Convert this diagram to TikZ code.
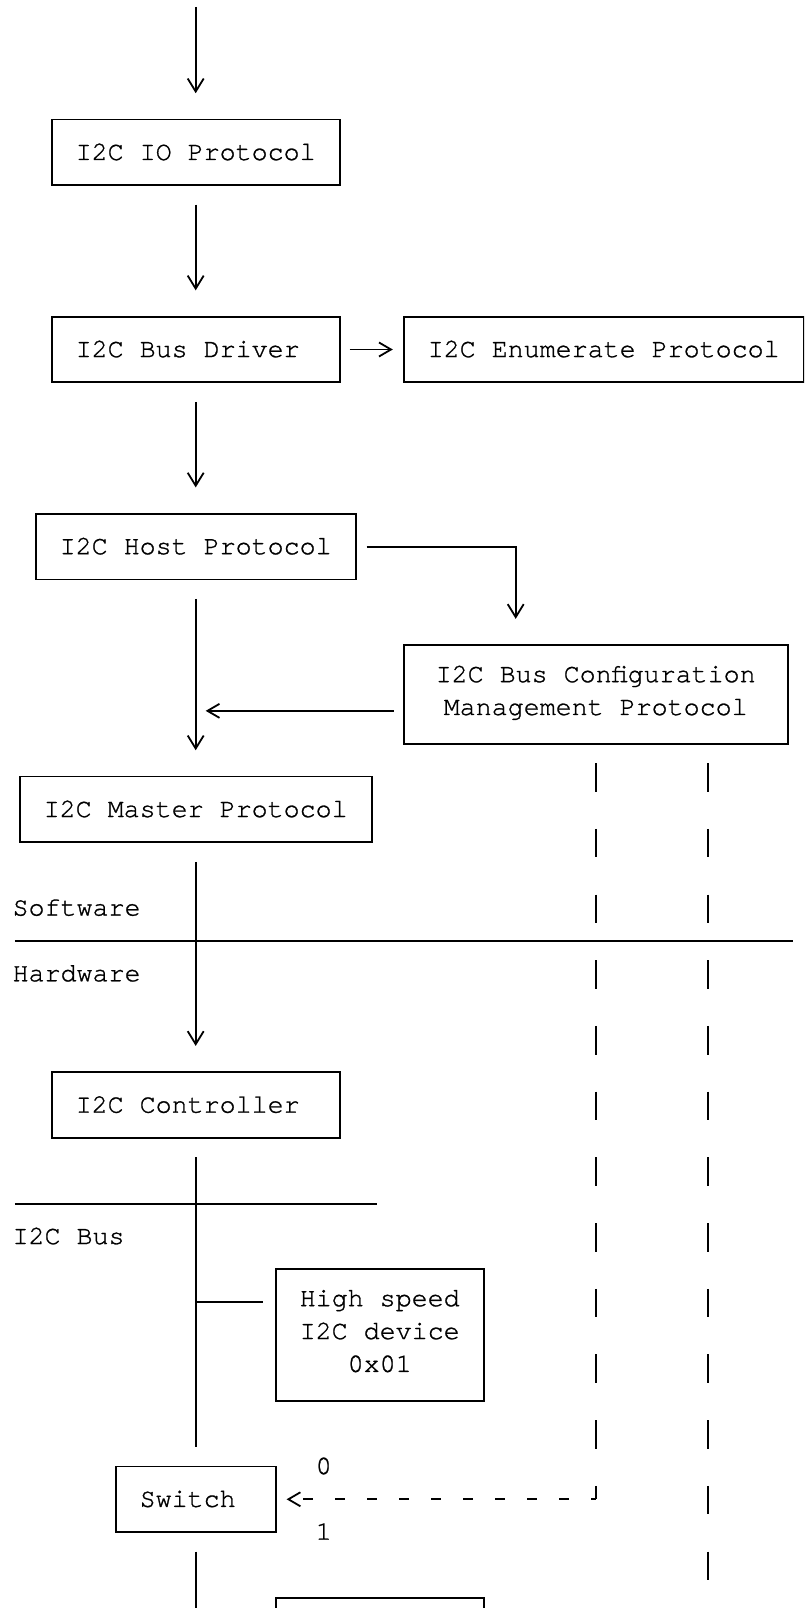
\documentclass[tikz,border=0pt]{standalone}
\usepackage{fontspec}
\setmonofont[FakeBold=1]{texgyrecursor-regular.otf}
\usetikzlibrary{arrows.meta}
\newcommand\rowstrut{\rule[-4.1pt]{0pt}{15.8pt}}
\begin{document}
\begin{tikzpicture}[x=8pt, y=-16.425pt, line width=0.9pt,
  font=\ttfamily\fontsize{13.33pt}{16.425pt}\selectfont,
  box/.style 2 args={draw, inner sep=0pt, align=center,
    minimum width=#1*8pt, minimum height=#2*16.425pt,
    execute at begin node=\rowstrut, execute at end node=\rowstrut},
  lbl/.style={inner sep=0pt, execute at begin node=\rowstrut},
  link/.style={-{Straight Barb[length=6.5pt,width=8pt]}, shorten <=9.3pt, shorten >=12.7pt},
  hlink/.style={-{Straight Barb[length=6pt,width=7pt]}, shorten <=4.5pt, shorten >=5pt},
  wire/.style={shorten <=9.3pt, shorten >=9.3pt},
  sel/.style={dash pattern=on 14.3pt off 18.55pt, dash phase=23.58pt},
  selh/.style={dash pattern=on 5pt off 11pt, dash phase=2.5pt}]
  \useasboundingbox (-1.231,0.361) rectangle (49.02,49.31);
  \clip (-1.231,0.361) rectangle (49.02,49.31);
  % software stack
  \node[box={18}{2}] (io) at (11,5) {I2C IO Protocol};
  \node[box={18}{2}] (drv) at (11,11) {I2C Bus Driver\phantom{x}};
  \node[box={25}{2}] (enum) at (36.5,11) {I2C Enumerate Protocol};
  \node[box={20}{2}] (host) at (11,17) {I2C Host Protocol};
  \node[box={24}{3}] (cfg) at (36,21.5) {I2C Bus Configuration\\Management Protocol};
  \node[box={22}{2}] (master) at (11,25) {I2C Master Protocol};
  % hardware side
  \node[box={18}{2}] (ctrl) at (11,34) {I2C Controller\phantom{x}};
  \node[box={13}{4}] (hs) at (22.5,41) {High speed\\I2C device\\0x01};
  \node[box={10}{2}] (sw) at (11,46) {Switch\phantom{x}};
  \node[box={13}{4}] (dev) at (22.5,51) {};
  % layer labels
  \node[lbl, anchor=west] (soft) at (-0.5,28) {Software};
  \node[lbl, anchor=west] (hard) at (-0.5,30) {Hardware};
  \node[lbl, anchor=west] (bus) at (-0.5,38) {I2C Bus};
  \node[lbl] (bit0) at (19,45) {0};
  \node[lbl] (bit1) at (19,47) {1};
  \draw (-0.3,29) -- (48.3,29);
  \draw (-0.3,37) -- (22.3,37);
  % main path
  \coordinate (entry) at (11,0.57);
  \coordinate (merge) at (11,22);
  \coordinate (tap) at (11,40);
  \coordinate (exit) at (11,50);
  \draw[link, shorten <=0pt] (entry) -- (io);
  \draw[link] (io) -- (drv);
  \draw[hlink] (drv) -- (enum);
  \draw[link] (drv) -- (host);
  \draw[link, shorten <=5pt] (host.east) -| ([xshift=-40pt]cfg.north);
  \draw[hlink] (cfg.west |- merge) -- (merge);
  \draw[link] (host) -- (master);
  \draw[link] (master) -- (ctrl);
  \draw[wire] (ctrl) -- (sw);
  \draw[shorten >=6pt] (tap) -- (hs.west |- tap);
  \draw[wire, shorten >=0pt] (sw) -- (exit);
  % switch select and second line
  \coordinate (bend) at (36,46);
  \coordinate (exitb) at (43,50);
  \draw[sel] (cfg.south) -- (bend);
  \draw[selh, hlink, shorten <=0pt] (bend) -- (sw.east);
  \draw[sel] ([xshift=56pt]cfg.south) -- (exitb);
\end{tikzpicture}
\end{document}
